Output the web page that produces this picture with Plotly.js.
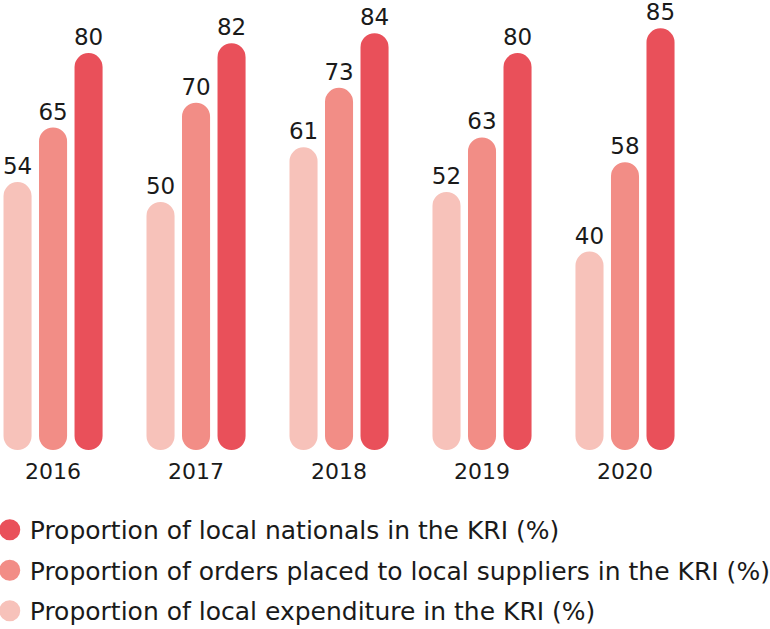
<!DOCTYPE html>
<html>
<head>
<meta charset="utf-8">
<script src="https://cdn.plot.ly/plotly-3.0.1.min.js"></script>
<style>html,body{margin:0;padding:0;background:#fff;}#chart{width:770px;height:629px;}</style>
</head>
<body>
<div id="chart"></div>
<script>
const years = ['2016', '2017', '2018', '2019', '2020'];
const nationals = [80, 82, 84, 80, 85];
const orders = [65, 70, 73, 63, 58];
const expenditure = [54, 50, 61, 52, 40];

const names = {
  nationals: 'Proportion of local nationals in the KRI (%)',
  orders: 'Proportion of orders placed to local suppliers in the KRI (%)',
  expenditure: 'Proportion of local expenditure in the KRI (%)'
};
const colors = { nationals: '#E9505A', orders: '#F28D86', expenditure: '#F7C2BA' };
const FONT = '"DejaVu Sans", Verdana, sans-serif';
const TXT = '#1a1a1a';

const PLOT_H = 450, Y_MAX = 90.7;

function barTrace(vals, key) {
  // explicit base makes Plotly round both ends -> pill shaped bars
  return {
    type: 'bar', x: years, y: vals, base: vals.map(() => 0),
    offsetgroup: key, marker: { color: colors[key], cornerradius: '50%', line: { width: 0 } },
    text: vals.map(String), textposition: 'outside', cliponaxis: false,
    textfont: { size: 23, color: TXT, family: FONT }, constraintext: 'none',
    showlegend: false, hoverinfo: 'skip'
  };
}
function legendTrace(key) {
  return {
    type: 'scatter', mode: 'markers', x: [null], y: [null], name: names[key],
    legendgroup: key,
    marker: { color: colors[key], size: 16, symbol: 'circle', line: { color: colors[key], width: 5 } },
    hoverinfo: 'skip'
  };
}

const data = [
  barTrace(expenditure, 'expenditure'), barTrace(orders, 'orders'), barTrace(nationals, 'nationals'),
  legendTrace('nationals'), legendTrace('orders'), legendTrace('expenditure')
];

const layout = {
  width: 770, height: 629,
  margin: { l: 0, r: 0, t: 0, b: 629 - PLOT_H },
  paper_bgcolor: '#fff', plot_bgcolor: '#fff',
  barmode: 'group', bargap: 0.255, bargroupgap: 0.21,
  font: { family: FONT, color: TXT, size: 22 },
  xaxis: {
    type: 'category', range: [-0.371, 5.014], showgrid: false, zeroline: false,
    showline: false, ticks: '', ticklabelstandoff: 6,
    tickfont: { size: 22, color: TXT, family: FONT }, fixedrange: true
  },
  yaxis: { range: [0, Y_MAX], visible: false, fixedrange: true },
  showlegend: true,
  legend: {
    orientation: 'v', x: -0.0133, xanchor: 'left', yref: 'container', y: 0.194, yanchor: 'top',
    font: { size: 25, color: TXT, family: FONT }, tracegroupgap: 5, traceorder: 'grouped',
    bgcolor: 'rgba(0,0,0,0)', borderwidth: 0
  }
};

Plotly.newPlot('chart', data, layout, { displayModeBar: false, staticPlot: true });
</script>
</body>
</html>
